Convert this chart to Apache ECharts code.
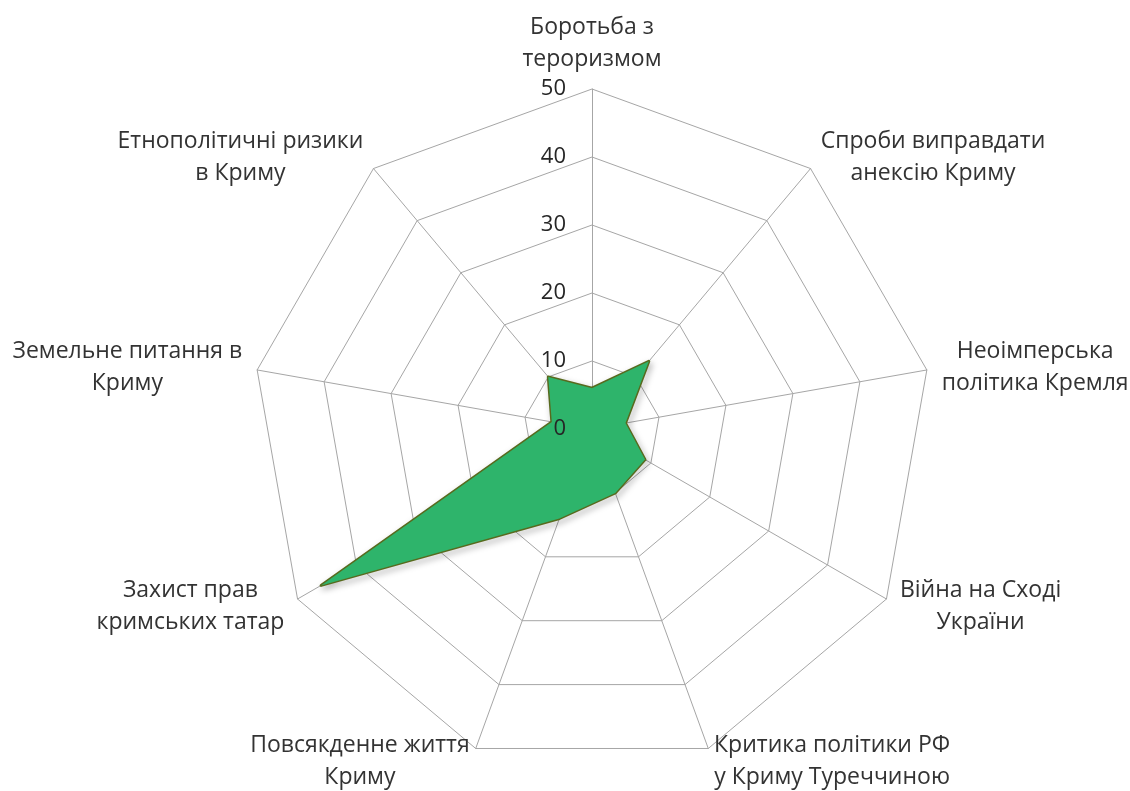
<!DOCTYPE html>
<html>
<head>
<meta charset="utf-8">
<script src="https://cdn.jsdelivr.net/npm/echarts@6/dist/echarts.min.js"></script>
<style>
  html, body { margin: 0; padding: 0; background: #fff; }
  #main { width: 1130px; height: 791px; }
</style>
</head>
<body>
<div id="main"></div>
<script>
// categories, clockwise from the top (as in the picture)
var categories = [
  'Боротьба з\nтероризмом',
  'Спроби виправдати\nанексію Криму',
  'Неоімперська\nполітика Кремля',
  'Війна на Сході\nУкраїни',
  'Критика політики РФ\nу Криму Туреччиною',
  'Повсякденне життя\nКриму',
  'Захист прав\nкримських татар',
  'Земельне питання в\nКриму',
  'Етнополітичні ризики\nв Криму'
];
var values = [6, 13, 5, 9, 10, 14, 46, 6, 10];
var axisMin = 0, axisMax = 50, axisStep = 10;

// radar runs counter-clockwise, so keep the first axis and reverse the rest
function toRadarOrder(arr) {
  return [arr[0]].concat(arr.slice(1).reverse());
}
var radarCats = toRadarOrder(categories);
var radarVals = toRadarOrder(values);

// measure lines so each name can be centred line by line
var ctx = document.createElement('canvas').getContext('2d');
ctx.font = '23px "Open Sans"';
var rich = {};
radarCats.forEach(function (c, i) {
  var w = 0;
  c.split('\n').forEach(function (s) { w = Math.max(w, ctx.measureText(s).width); });
  rich['c' + i] = { align: 'center', width: Math.ceil(w) + 2, fontSize: 23, lineHeight: 32, color: '#333333', fontFamily: 'Open Sans' };
});

var myChart = echarts.init(document.getElementById('main'));

var CENTER = [592, 429], RADIUS = 340;

var option = {
  backgroundColor: '#ffffff',
  textStyle: { fontFamily: 'Open Sans' },
  // polar used only for the 0..50 tick labels along the top axis
  polar: { center: CENTER, radius: RADIUS },
  angleAxis: { startAngle: 90, show: false, min: 0, max: 360 },
  radiusAxis: {
    min: axisMin, max: axisMax, interval: axisStep,
    axisLine: { show: false },
    axisTick: { show: false },
    splitLine: { show: false },
    axisLabel: {
      color: '#262626',
      fontFamily: 'Open Sans',
      fontSize: 22,
      margin: 26
    },
    z: 10
  },
  radar: {
    center: CENTER,
    radius: RADIUS,
    startAngle: 90,
    splitNumber: 5,
    shape: 'polygon',
    indicator: radarCats.map(function (c) { return { name: c, min: axisMin, max: axisMax }; }),
    axisName: {
      color: '#333333',
      fontFamily: 'Open Sans',
      fontSize: 23,
      lineHeight: 32,
      formatter: function (name) {
        var k = radarCats.indexOf(name);
        return name.split('\n').map(function (s) { return '{c' + k + '|' + s + '}'; }).join('\n');
      },
      rich: rich
    },
    nameGap: 14,
    axisLine: { lineStyle: { color: '#a6a6a6', width: 1 } },
    splitLine: { lineStyle: { color: '#a6a6a6', width: 1 } },
    splitArea: { show: false },
    axisTick: { show: false },
    axisLabel: { show: false }
  },
  series: [{
    type: 'radar',
    symbol: 'none',
    silent: true,
    data: [{
      value: radarVals,
      lineStyle: {
        color: '#586a1e',
        width: 3,
        shadowColor: 'rgba(0,0,0,0.35)',
        shadowBlur: 6,
        shadowOffsetX: 2,
        shadowOffsetY: 3
      },
      areaStyle: { color: '#2eb46b', opacity: 1 }
    }]
  }]
};
myChart.setOption(option);
</script>
</body>
</html>
